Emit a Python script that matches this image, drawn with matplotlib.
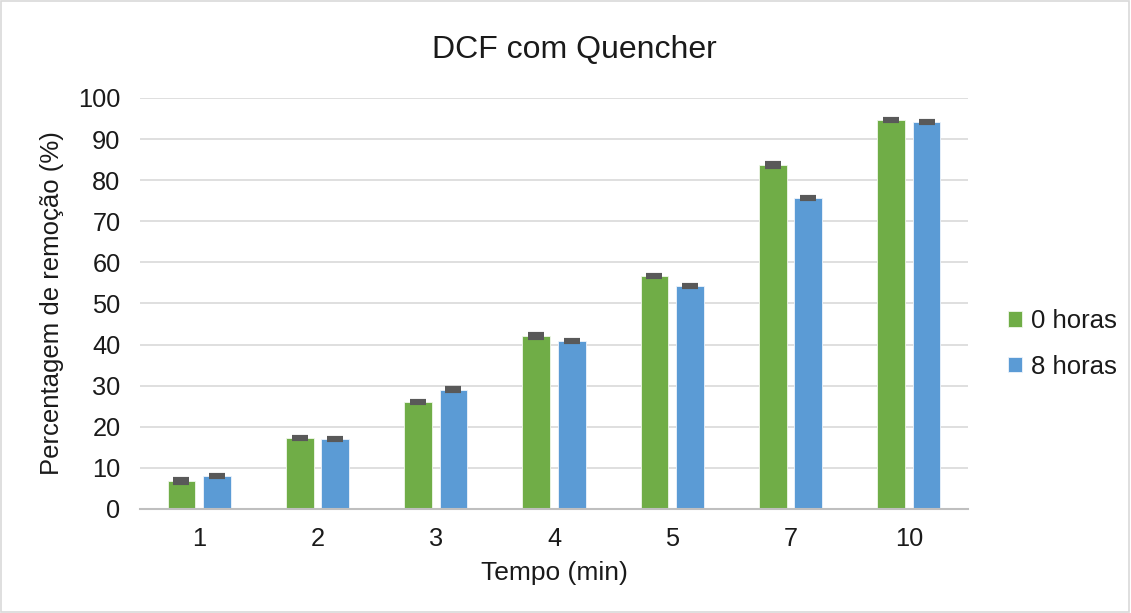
import numpy as np
import matplotlib
matplotlib.use("Agg")
import matplotlib.pyplot as plt
from matplotlib.patches import Rectangle

plt.rcParams['font.family'] = ['Liberation Sans', 'DejaVu Sans']

categories = ["1", "2", "3", "4", "5", "7", "10"]
horas_0 = [6.8, 17.3, 26.0, 42.1, 56.7, 83.7, 94.6]
horas_8 = [8.0, 17.0, 29.0, 40.9, 54.3, 75.7, 94.1]
err_0 = [0.4, 0.3, 0.3, 0.4, 0.3, 0.4, 0.3]
err_8 = [0.3, 0.3, 0.4, 0.3, 0.3, 0.2, 0.3]

green = "#70AD47"
blue = "#5B9BD5"
txt = "#1a1a1a"

fig = plt.figure(figsize=(11.31, 6.13), dpi=100)
ax = fig.add_axes([0.1238, 0.1697, 0.732, 0.6705])

x = np.arange(len(categories))
w = 0.235
off = 0.15
ax.bar(x - off, horas_0, width=w, color=green, edgecolor="#f0f7ea", linewidth=0.6, label="0 horas", zorder=2)
ax.bar(x + off, horas_8, width=w, color=blue, edgecolor="#eef4fb", linewidth=0.6, label="8 horas", zorder=2)
for xs, vals, errs in ((x - off, horas_0, err_0), (x + off, horas_8, err_8)):
    ax.errorbar(xs, vals, yerr=errs, fmt="none", ecolor="#595959", elinewidth=1.5,
                capsize=5.5, capthick=3, zorder=3)

ax.set_xlim(-0.5, len(categories) - 0.5)
ax.set_ylim(0, 100)
ax.set_yticks(range(0, 101, 10))
ax.set_xticks(x)
ax.set_xticklabels(categories)
ax.yaxis.grid(True, color="#d9d9d9", linewidth=1.2, zorder=0)
ax.set_axisbelow(True)
for s in ("top", "right", "left"):
    ax.spines[s].set_visible(False)
ax.spines["bottom"].set_color("#bfbfbf")
ax.spines["bottom"].set_linewidth(1.5)
ax.tick_params(axis="both", length=0, labelsize=18.3, colors=txt)
ax.tick_params(axis="x", pad=13)
ax.tick_params(axis="y", pad=14)

ax.set_xlabel("Tempo (min)", fontsize=19, color=txt, labelpad=7)
ax.set_ylabel("Percentagem de remoção (%)", fontsize=18.5, color=txt, labelpad=10)
fig.text(0.508, 0.918, "DCF com Quencher", ha="center", va="center", fontsize=23, color=txt)

leg = fig.legend(loc="center left", bbox_to_anchor=(0.891, 0.439), frameon=False,
                 fontsize=18.5, handlelength=0.55, handleheight=0.55, handletextpad=0.35,
                 labelspacing=0.85, labelcolor=txt, borderaxespad=0, borderpad=0)

fig.patches.append(Rectangle((0.001, 0.002), 0.997, 0.996, transform=fig.transFigure,
                             fill=False, edgecolor="#d9d9d9", linewidth=1.2))

fig.savefig("out.png", dpi=100)
